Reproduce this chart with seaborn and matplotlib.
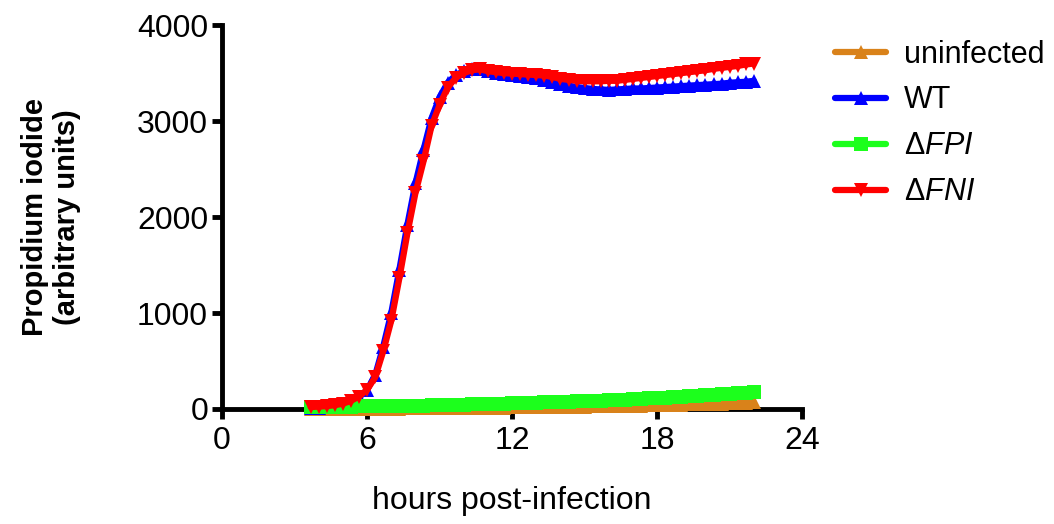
import matplotlib
matplotlib.use("Agg")
import matplotlib.pyplot as plt
import seaborn as sns
import pandas as pd

# time points (hours post-infection), one reading every 20 min
hours = [3.67 + i / 3 for i in range(56)]

uninfected = [2, 2, 2, 2, 3, 3, 3, 3, 4, 4, 5, 5, 6, 6, 7, 8, 8, 9, 10, 10,
              11, 12, 13, 14, 15, 16, 17, 18, 19, 20, 21, 22, 23, 24, 25, 27,
              28, 29, 31, 32, 34, 35, 37, 39, 41, 43, 45, 47, 49, 51, 53, 55,
              58, 61, 64, 68]
wt = [10, 15, 20, 30, 45, 75, 120, 200, 350, 650, 1000, 1450, 1920, 2350,
      2700, 3030, 3250, 3400, 3480, 3520, 3540, 3540, 3520, 3500, 3490, 3480,
      3470, 3460, 3450, 3430, 3410, 3390, 3370, 3355, 3345, 3335, 3330, 3325,
      3330, 3335, 3340, 3340, 3345, 3350, 3355, 3360, 3365, 3370, 3375, 3380,
      3385, 3390, 3400, 3405, 3410, 3420]
dfpi = [20, 21, 22, 23, 24, 25, 26, 27, 28, 30, 31, 32, 33, 35, 36, 38, 40,
        42, 44, 46, 48, 50, 52, 54, 56, 58, 60, 63, 65, 68, 70, 73, 76, 79,
        82, 85, 88, 91, 94, 98, 102, 106, 110, 114, 118, 122, 126, 131, 136,
        141, 146, 151, 157, 163, 170, 178]
dfni = [20, 25, 30, 40, 55, 85, 130, 200, 330, 600, 920, 1360, 1830, 2250,
        2580, 2950, 3170, 3350, 3450, 3500, 3530, 3540, 3520, 3510, 3500, 3495,
        3490, 3485, 3480, 3475, 3460, 3440, 3430, 3420, 3415, 3415, 3415, 3420,
        3420, 3430, 3440, 3450, 3460, 3470, 3480, 3490, 3500, 3510, 3520, 3530,
        3545, 3555, 3565, 3575, 3590, 3600]

labels = ["uninfected", "WT", r"Δ$\mathit{FPI}$", r"Δ$\mathit{FNI}$"]
colors = ["#D9821A", "#0000FF", "#1CFF1C", "#FF0000"]
markers = ["^", "^", "s", "v"]

sns.set_style("ticks")
plt.rcParams["font.family"] = ["Liberation Sans", "DejaVu Sans"]
plt.rcParams["mathtext.fontset"] = "custom"
plt.rcParams["mathtext.it"] = "Liberation Sans:italic"
plt.rcParams["mathtext.rm"] = "Liberation Sans"
plt.rcParams["text.color"] = "black"
plt.rcParams["axes.labelcolor"] = "black"
plt.rcParams["xtick.color"] = "black"
plt.rcParams["ytick.color"] = "black"
plt.rcParams["axes.edgecolor"] = "black"

fig = plt.figure(figsize=(10.54, 5.24), dpi=100)
ax = fig.add_axes([0.2106, 0.2195, 0.5504, 0.7325])

series = [uninfected, wt, dfpi, dfni]
order = [0, 2, 1, 3]  # drawing order: red on top
for k in order:
    df = pd.DataFrame({"hours": hours, "value": series[k]})
    sns.lineplot(data=df, x="hours", y="value", ax=ax, color=colors[k],
                 marker=markers[k], markersize=10, markeredgewidth=0,
                 linewidth=4.5, label=labels[k], zorder=3 + k)

h, l = ax.get_legend_handles_labels()
lookup = dict(zip(l, h))
leg = ax.legend([lookup[x] for x in labels], labels, loc="upper left",
                bbox_to_anchor=(1.01, 1.034), frameon=False, fontsize=22,
                handlelength=1.65, labelspacing=0.52, handletextpad=0.6)
for ln in leg.get_lines():
    ln.set_solid_capstyle("round")

ax.set_xlim(0, 24)
ax.set_ylim(0, 4000)
ax.set_xticks([0, 6, 12, 18, 24])
ax.set_yticks([0, 1000, 2000, 3000, 4000])
ax.tick_params(labelsize=23, width=3.5, length=7, direction="out")
ax.tick_params(axis="x", pad=5)
ax.tick_params(axis="y", pad=3)
for side in ["left", "bottom"]:
    ax.spines[side].set_linewidth(3.5)
sns.despine(ax=ax)
for t in ax.get_lines():
    t.set_clip_on(False)

ax.set_xlabel("hours post-infection", fontsize=23, labelpad=22)
ax.set_ylabel("Propidium iodide\n(arbitrary units)", fontsize=21,
              fontweight="bold", labelpad=40)

fig.savefig("out.png", dpi=100)
